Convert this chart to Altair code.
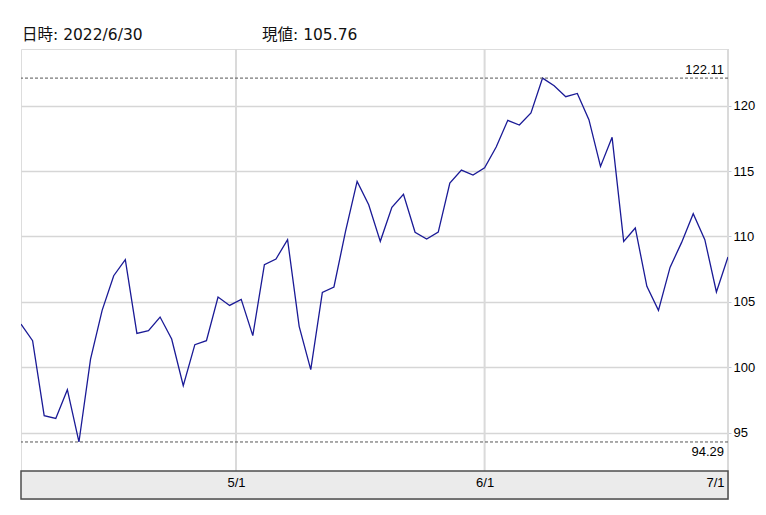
import altair as alt
import pandas as pd

# ---- data ----
values = [103.31, 102.03, 96.30, 96.09, 98.29, 94.29, 100.63, 104.35, 107.00, 108.23,
          102.59, 102.80, 103.84, 102.16, 98.59, 101.73, 102.03, 105.37, 104.73, 105.19,
          102.42, 107.84, 108.28, 109.76, 103.13, 99.82, 105.73, 106.14, 110.39, 114.21,
          112.43, 109.63, 112.23, 113.22, 110.32, 109.81, 110.34, 114.09, 115.08, 114.70,
          115.26, 116.84, 118.88, 118.52, 119.44, 122.11, 121.53, 120.69, 120.94, 118.93,
          115.36, 117.58, 109.63, 110.65, 106.19, 104.35, 107.64, 109.55, 111.74, 109.76,
          105.76, 108.43]
holidays = ["2022-04-15", "2022-05-30", "2022-06-20"]
dates = pd.bdate_range("2022-04-04", "2022-07-01", freq="C", holidays=holidays)
x_tick_pos = [18.55, 40, 61]
x_tick_labels = ["5/1", "6/1", "7/1"]
y_ticks = [95, 100, 105, 110, 115, 120]
header_date = "2022/6/30"
header_value = 105.76
y_domain = [89.93, 124.335]

W, H = 707, 450
BAND_H = 28
NARROW = "Liberation Sans Narrow, Liberation Sans, Arial"
HEAD = "DejaVu Sans, Noto Sans CJK JP"

df = pd.DataFrame({"i": list(range(len(values))),
                   "date": [d.strftime("%Y-%m-%d") for d in dates[:len(values)]],
                   "v": values})

label_expr = "[" + ",".join(f"'{s}'" for s in x_tick_labels) + "][indexof([" + \
    ",".join(str(p) for p in x_tick_pos) + "], datum.value)]"
last_x = len(values) - 1

xscale = alt.Scale(domain=[0, last_x], nice=False, zero=False)
yscale = alt.Scale(domain=y_domain, nice=False, zero=False)

x_enc = alt.X("i:Q", scale=xscale,
              axis=alt.Axis(values=x_tick_pos, labelExpr=label_expr, grid=False, ticks=False,
                            domain=False, labelPadding=-13, labelBaseline="alphabetic",
                            labelAlign={"condition": {"test": f"datum.value >= {last_x}", "value": "right"},
                                        "value": "center"},
                            labelOffset={"condition": {"test": f"datum.value >= {last_x}", "value": -4},
                                         "value": 0},
                            zindex=1, title=None, labelFont=NARROW,
                            labelFontSize=13, labelColor="#000", labelBound=False))
y_enc = alt.Y("v:Q", scale=yscale,
              axis=alt.Axis(orient="right", values=y_ticks, grid=True, gridColor="#d6d6d6",
                            gridWidth=1.5, domain=False, tickSize=3, tickColor="#c5cad6",
                            labelPadding=2, labelFont=NARROW, labelFontSize=13,
                            labelColor="#000", labelAlign="left", title=None))

vgrid = alt.Chart(pd.DataFrame({"i": x_tick_pos})).mark_rule(
    color="#dadada", strokeWidth=2).encode(
    x=alt.X("i:Q", scale=xscale), y=alt.value(0), y2=alt.value(H - BAND_H))

band = alt.Chart(pd.DataFrame({"a": [0]})).mark_rect(
    fill="#ebebeb", stroke="#4d4d4d", strokeWidth=1.5).encode(
    x=alt.value(0), x2=alt.value(W), y=alt.value(H - BAND_H), y2=alt.value(H))

line = alt.Chart(df).mark_line(color="#1a1a96", strokeWidth=1.3, clip=True).encode(
    x=x_enc, y=y_enc)

ext = pd.DataFrame({"v": [max(values), min(values)]})
ext_rule = alt.Chart(ext).mark_rule(strokeDash=[3, 2], color="#555555", strokeWidth=1).encode(
    y=alt.Y("v:Q", scale=yscale))

max_lbl = alt.Chart(pd.DataFrame({"v": [max(values)]})).mark_text(
    align="right", baseline="bottom", dy=-1, font=NARROW, fontSize=13, color="#000").encode(
    y=alt.Y("v:Q", scale=yscale), x=alt.value(W - 4), text=alt.Text("v:Q", format=".2f"))
min_lbl = alt.Chart(pd.DataFrame({"v": [min(values)]})).mark_text(
    align="right", baseline="top", dy=4, font=NARROW, fontSize=13, color="#000").encode(
    y=alt.Y("v:Q", scale=yscale), x=alt.value(W - 4), text=alt.Text("v:Q", format=".2f"))

head1 = alt.Chart(pd.DataFrame({"t": [f"日時: {header_date}"]})).mark_text(
    align="left", baseline="alphabetic", font=HEAD, fontSize=15.5, color="#111").encode(
    text="t:N", x=alt.value(1), y=alt.value(-9.5))
head2 = alt.Chart(pd.DataFrame({"t": [f"現値: {header_value:.2f}"]})).mark_text(
    align="left", baseline="alphabetic", font=HEAD, fontSize=15.5, color="#111").encode(
    text="t:N", x=alt.value(241), y=alt.value(-9.5))

chart = alt.layer(vgrid, line, ext_rule, max_lbl, min_lbl, band, head1, head2).properties(
    width=W, height=H,
    autosize=alt.AutoSizeParams(type="none"),
    padding={"left": 13, "top": 41, "right": 30, "bottom": 10},
).configure_view(stroke="#3a3a3a", strokeWidth=1.5).configure(background="white")

chart.save("out.html", embed_options={"renderer": "svg", "actions": False})
